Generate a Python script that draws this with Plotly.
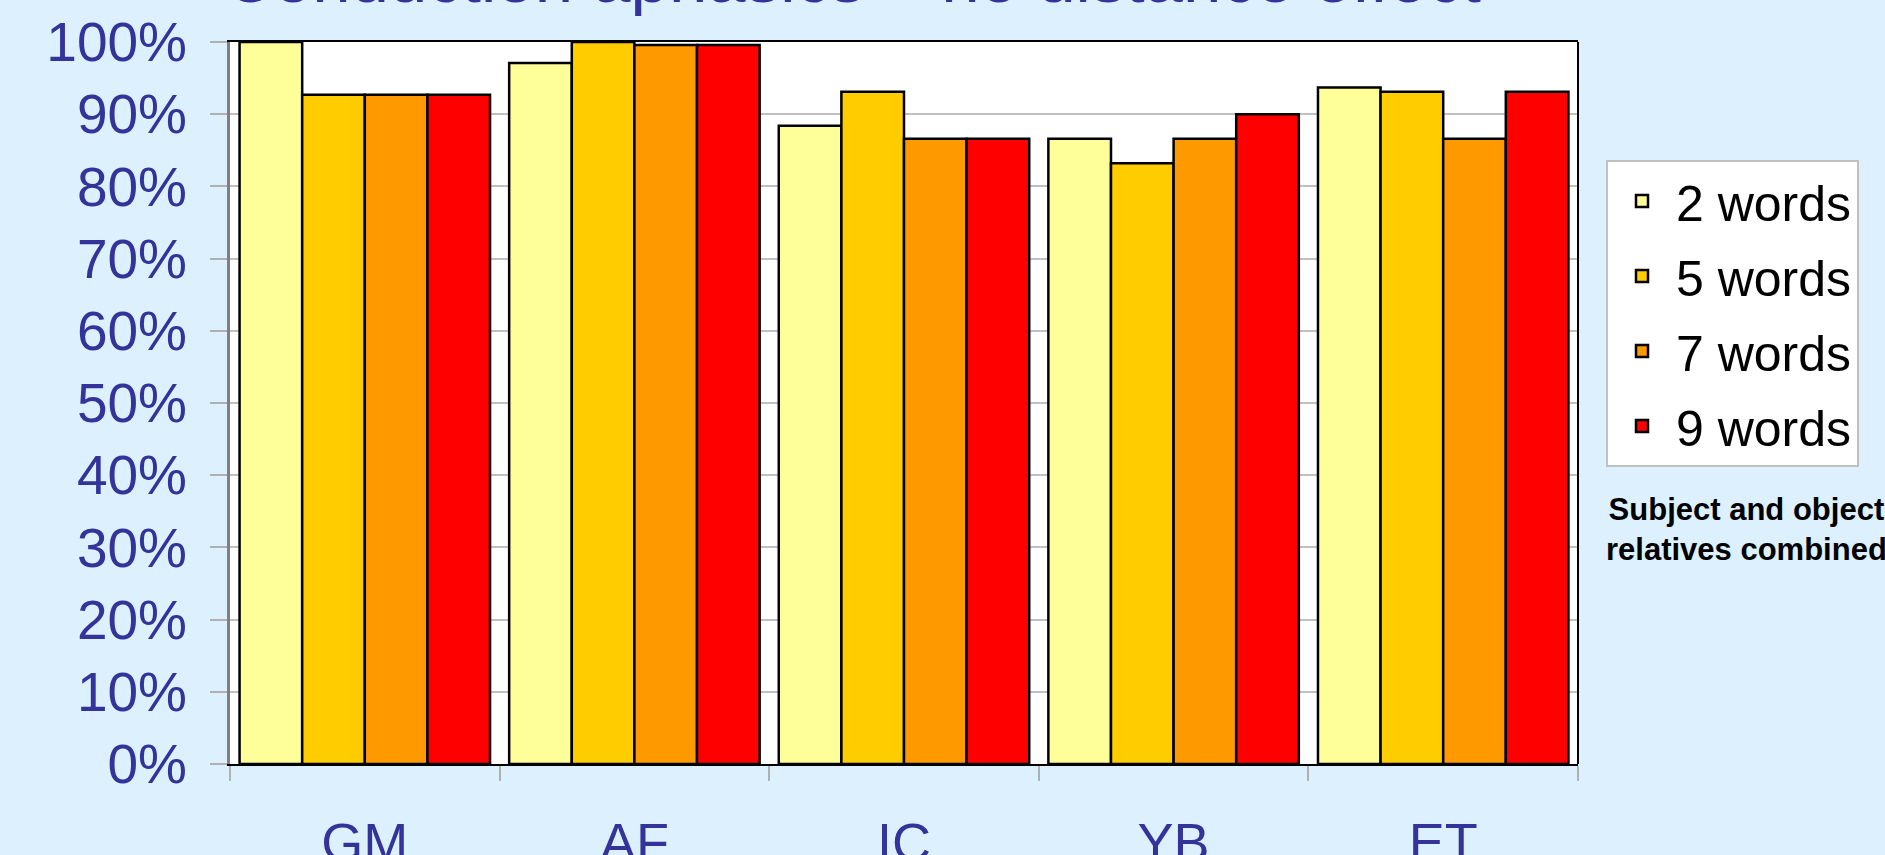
import plotly.graph_objects as go

patients = ["GM", "AF", "IC", "YB", "ET"]
series_names = ["2 words", "5 words", "7 words", "9 words"]
words2 = [100.0, 97.1, 88.4, 86.6, 93.7]
words5 = [92.7, 100.0, 93.1, 83.2, 93.1]
words7 = [92.7, 99.6, 86.6, 86.6, 86.6]
words9 = [92.7, 99.6, 86.6, 90.0, 93.1]
colors = ["#FFFF99", "#FFCC00", "#FF9900", "#FF0000"]
y_ticks = [0, 10, 20, 30, 40, 50, 60, 70, 80, 90, 100]
y_tick_text = [f"{v}%" for v in y_ticks]

BG = "#DCF0FE"
BLUE = "#333399"
FONT = "Liberation Sans, Arial, sans-serif"

fig = go.Figure()
for i, (name, vals) in enumerate(zip(series_names, [words2, words5, words7, words9])):
    fig.add_trace(go.Bar(
        x=patients, y=vals, name=name,
        marker=dict(color=colors[i], line=dict(color="#000000", width=2.5)),
        legendgroup=name,
    ))

L, R, T, B = 230, 1578, 42, 764
W, H = 1885, 855

fig.update_layout(
    width=W, height=H,
    paper_bgcolor=BG, plot_bgcolor="#FFFFFF",
    margin=dict(l=L, r=W - R, t=T, b=H - B, autoexpand=False),
    barmode="group", bargap=0.071, bargroupgap=0,
    font=dict(family=FONT, color=BLUE),
    showlegend=True,
    legend=dict(
        x=(1606 - L) / (R - L), y=(B - 160) / (B - T),
        xanchor="left", yanchor="top",
        bgcolor="#FFFFFF", bordercolor="#C0C0C0", borderwidth=2,
        font=dict(family=FONT, size=50, color="#000000"),
        traceorder="grouped", tracegroupgap=7,
        itemwidth=58,
    ),
)

fig.update_yaxes(
    range=[0, 100], tickmode="array", tickvals=y_ticks, ticktext=y_tick_text,
    showgrid=True, gridcolor="#C0C0C0", gridwidth=2,
    showline=True, linecolor="#808080", linewidth=3,
    ticks="outside", ticklen=17, tickcolor="#B0B0B0", tickwidth=2,
    ticklabelstandoff=12,
    tickfont=dict(family=FONT, size=55, color=BLUE),
    zeroline=False, fixedrange=True,
)
fig.update_xaxes(
    showline=True, linecolor="#000000", linewidth=2, mirror=True,
    showgrid=False,
    ticks="outside", tickson="boundaries", ticklen=15, tickcolor="#B0B0B0", tickwidth=2,
    ticklabelstandoff=30,
    tickfont=dict(family=FONT, size=54, color=BLUE),
    fixedrange=True,
)

# right border of plot area
fig.add_shape(type="line", xref="x domain", yref="y domain", x0=1, x1=1, y0=0, y1=1,
              line=dict(color="#000000", width=2))

# title (cut off at the top, as in the reference)
fig.add_annotation(
    text="Conduction aphasics – no distance effect",
    xref="paper", yref="paper", x=(222 - L) / (R - L), y=(B - 19) / (B - T),
    xanchor="left", yanchor="bottom", showarrow=False,
    font=dict(family=FONT, size=69, color=BLUE),
)

fig.add_annotation(
    text="<b>Subject and object<br>relatives combined</b>",
    xref="paper", yref="paper", x=(1746 - L) / (R - L), y=(B - 529) / (B - T),
    xanchor="center", yanchor="middle", showarrow=False, align="center",
    font=dict(family=FONT, size=31, color="#000000"),
)

fig.write_html(
    "out.html",
    config={"displayModeBar": False},
    post_script="document.body.style.margin='0';",
)
